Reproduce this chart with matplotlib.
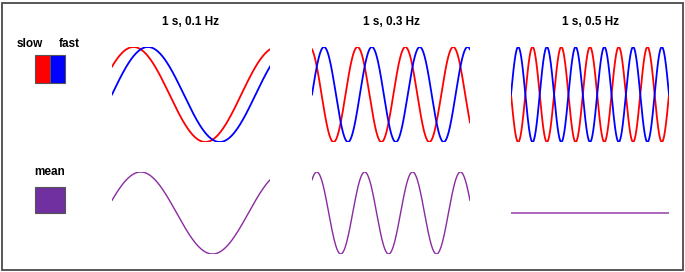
import numpy as np
import matplotlib
matplotlib.use("Agg")
import matplotlib.pyplot as plt
from matplotlib.patches import Rectangle

# ---- data ----
lag_s = 1.0                       # time lag between slow and fast signal (s)
frequencies_hz = [0.1, 0.3, 0.5]  # one column per frequency
duration_s = 11.0                 # visible time window
titles = ["1 s, 0.1 Hz", "1 s, 0.3 Hz", "1 s, 0.5 Hz"]
legend_top = ["slow", "fast"]
legend_bottom = "mean"

RED = "#ff0000"
BLUE = "#0000ff"
PURPLE = "#7030a0"
LINE_PURPLE = "#8a2aa0"

W, H = 685, 272
fig = plt.figure(figsize=(W / 100, H / 100), dpi=100)
plt.rcParams["font.family"] = ["Liberation Sans", "DejaVu Sans"]


def fx(px):
    return px / W


def fy(py):
    return 1 - py / H


# figure border
fig.patches.append(Rectangle((fx(1.5), fy(270)), fx(681.5), (269 - 1.5) / H,
                             transform=fig.transFigure, fill=False,
                             edgecolor="#4a4a4a", linewidth=1.3))

t = np.linspace(0, duration_s, 1200)
panel_x = [112, 312, 511]
panel_w = 158
top_y0, top_y1 = 47, 142
bot_y0, bot_y1 = 172, 254

for i, f in enumerate(frequencies_hz):
    blue = np.sin(2 * np.pi * f * t)
    red = np.sin(2 * np.pi * f * (t + lag_s))
    mean = (red + blue) / 2

    ax = fig.add_axes([fx(panel_x[i]), fy(top_y1), fx(panel_w), (top_y1 - top_y0) / H])
    ax.plot(t, red, color=RED, lw=1.3)
    ax.plot(t, blue, color=BLUE, lw=1.3)
    ax.set_xlim(0, duration_s)
    ax.set_ylim(-1.0, 1.0)
    ax.axis("off")

    fig.text(fx(panel_x[i] + panel_w / 2), fy(22), titles[i], ha="center", va="center",
             fontsize=8.5, fontweight="bold")

    axb = fig.add_axes([fx(panel_x[i]), fy(bot_y1), fx(panel_w), (bot_y1 - bot_y0) / H])
    axb.plot(t, mean, color=LINE_PURPLE, lw=1.0)
    amp = np.max(np.abs(mean))
    if amp < 1e-6:
        amp = 1.0
    axb.set_xlim(0, duration_s)
    axb.set_ylim(-amp, amp)
    axb.axis("off")

# legend boxes
fig.patches.append(Rectangle((fx(35), fy(83)), fx(15), 28 / H, transform=fig.transFigure,
                             facecolor=RED, edgecolor="#555555", linewidth=0.8))
fig.patches.append(Rectangle((fx(50), fy(83)), fx(15), 28 / H, transform=fig.transFigure,
                             facecolor=BLUE, edgecolor="#555555", linewidth=0.8))
fig.patches.append(Rectangle((fx(35), fy(213)), fx(30), 26 / H, transform=fig.transFigure,
                             facecolor=PURPLE, edgecolor="#555555", linewidth=0.8))
fig.text(fx(30), fy(44), legend_top[0], ha="center", va="center", fontsize=8.5, fontweight="bold")
fig.text(fx(69), fy(44), legend_top[1], ha="center", va="center", fontsize=8.5, fontweight="bold")
fig.text(fx(50), fy(172), legend_bottom, ha="center", va="center", fontsize=8.5, fontweight="bold")

fig.savefig("out.png", dpi=100, facecolor="white")
